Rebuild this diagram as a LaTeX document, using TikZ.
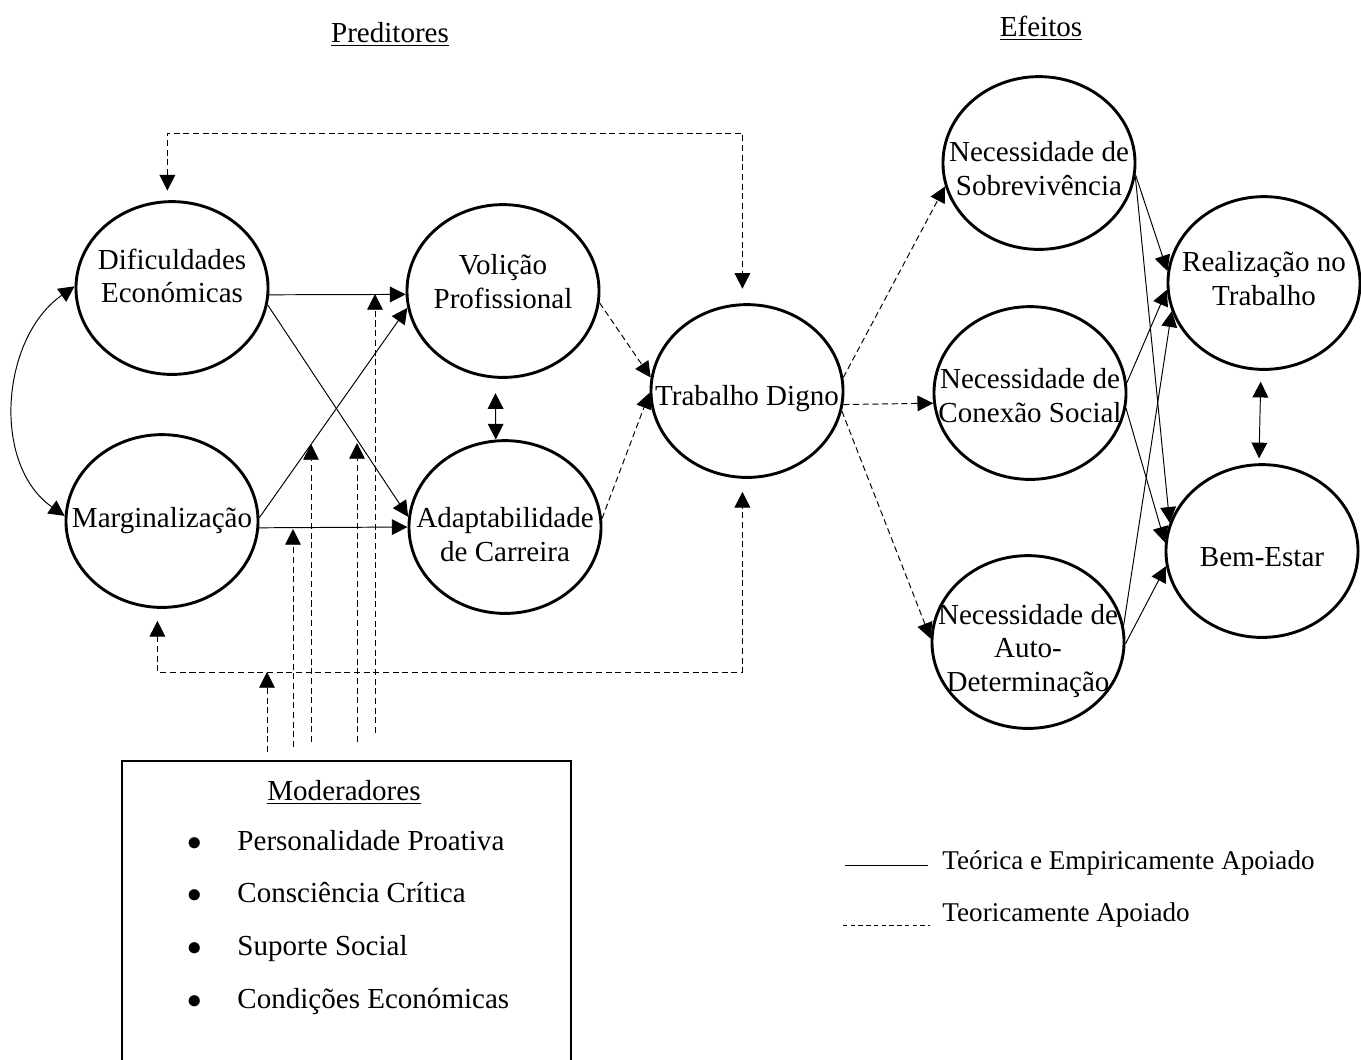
\documentclass[tikz,border=0pt]{standalone}
\usepackage{fontspec}
\setmainfont{Liberation Serif}
\usepackage{tikz}
\usetikzlibrary{shapes.geometric}
\usetikzlibrary{arrows.meta}

\tikzset{
  main/.style = {draw, ellipse, line width=1.2pt, minimum width=2.79cm, minimum height=2.51cm, inner sep=0pt},
  lbl/.style = {align=center, inner sep=0pt},
  theory/.style = {dash pattern=on 2.5pt off 1.5pt},
  >={Triangle[length=6.5pt,width=6.5pt]}
}

\begin{document}
\begin{tikzpicture}[x=0.01452cm, y=-0.01452cm, font=\fontsize{12}{14}\selectfont]
\useasboundingbox (0,0) rectangle (1361,1059);
\clip (0,0) rectangle (1361,1059);

% headings
\node[anchor=base] (pred) at (390,42) {\underline{Preditores}};
\node[anchor=base] (eff) at (1041,36) {\underline{Efeitos}};

% predictors
\node[main, label={[lbl, yshift=5pt]center:Dificuldades\\Económicas}] (de) at (172,288) {};
\node[main, label={[lbl]center:Marginalização}] (ma) at (162,521) {};
\node[main, label={[lbl, yshift=4pt]center:Volição\\Profissional}] (vp) at (503,291) {};
\node[main, label={[lbl, yshift=-3.3pt]center:Adaptabilidade\\de Carreira}] (ac) at (505,527) {};
\node[main, label={[lbl, yshift=-3pt]center:Trabalho Digno}] (td) at (747,391) {};

% effects
\node[main, label={[lbl, yshift=-2.3pt]center:Necessidade de\\Sobrevivência}] (ns) at (1039,163) {};
\node[main, label={[lbl, yshift=-1pt]center:Necessidade de\\Conexão Social}] (nc) at (1030,393) {};
\node[main, label={[lbl, yshift=-3.7pt]center:Necessidade de\\Auto-\\Determinação}] (na) at (1028,642) {};
\node[main, label={[lbl, yshift=2pt]center:Realização no\\Trabalho}] (rt) at (1264,283) {};
\node[main, label={[lbl, yshift=-2.5pt]center:Bem-Estar}] (be) at (1262,551) {};

% solid links
\draw[<->] (de.179) to[out=215, in=145] (ma.177);
\draw[->] (de.-4) -- (vp.182);
\draw[->] (de.-10) -- (ac.174);
\draw[->] (ma.2) -- (vp.190);
\draw[->] (ma.-4) -- (ac.180);
\draw[<->, shorten <=6pt] (vp.-95) -- (ac.96);

\draw[->] (ns.-7) -- (rt.173);
\draw[->] (ns.-8) -- (be.163);
\draw[->] (nc.6) -- (rt.184);
\draw[->] (nc.-9) -- (be.175);
\draw[->] (na.10) -- (rt.197);
\draw[->] (na.-1) -- (be.189);
\draw[<->, shorten <=4.5pt, shorten >=2pt] (rt.-92) -- (be.92);

% dashed links
\draw[theory, ->] (vp.-7) -- (td.172);
\draw[theory, ->] (ac.5) -- (td.181);
\draw[theory, ->] (td.8) -- (ns.194);
\draw[theory, ->] (td.-8) -- (nc.186);
\draw[theory, ->] (td.-12) -- (na.178);

\coordinate (top) at (0,133);
\coordinate (bottom) at (0,672);
\draw[theory, <->, shorten <=4pt, shorten >=6pt] (de.93) -- (de.93 |- top) -- (td.93 |- top) -- (td.93);
\draw[theory, <->, shorten <=5pt, shorten >=5.4pt] (ma.-93) -- (ma.-93 |- bottom) -- (td.-93 |- bottom) -- (td.-93);

% moderators
\node[draw, line width=0.8pt, anchor=north west, minimum width=6.52cm, minimum height=4.8cm] (mod) at (121,760) {};
\node[anchor=base] (mod-title) at (344,800) {\underline{Moderadores}};
\foreach \entry [count=\i] in {Personalidade Proativa, Consciência Crítica, Suporte Social, Condições Económicas} {
  \node[anchor=base] (dot\i) at (195,{850+52.7*(\i-1)}) {$\bullet$};
  \node[anchor=base west, inner sep=0pt] (item\i) at (237,{850+52.7*(\i-1)}) {\entry};
}

\foreach \x/\tip/\foot [count=\k] in {267/672/752, 293/529/747, 311/444/742, 357/443/742, 375/294/733} {
  \coordinate (foot\k) at (\x,\foot);
  \coordinate (head\k) at (\x,\tip);
  \draw[theory, ->] (foot\k) -- (head\k);
}

% legend
\coordinate (solid-start) at (845,865);
\coordinate (dash-start) at (843,925);
\node[anchor=base west, inner sep=0pt, font=\fontsize{11.2}{13}\selectfont] (leg-solid) at (942,869) {Teórica e Empiricamente Apoiado};
\node[anchor=base west, inner sep=0pt, font=\fontsize{11.2}{13}\selectfont] (leg-dash) at (942,921) {Teoricamente Apoiado};
\draw (solid-start) -- ++(83,0);
\draw[dash pattern=on 1.8pt off 1.4pt] (dash-start) -- ++(87,0);

\end{tikzpicture}
\end{document}
